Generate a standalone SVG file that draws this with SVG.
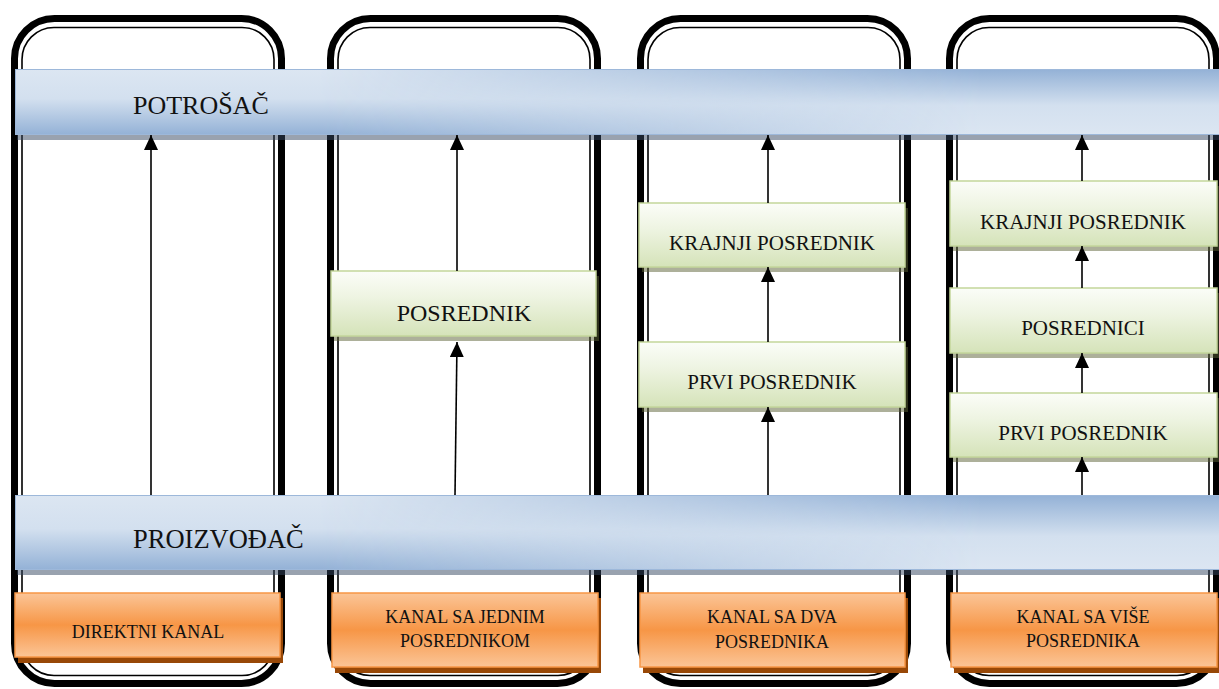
<svg xmlns="http://www.w3.org/2000/svg" width="1219" height="689" viewBox="0 0 1219 689">
<style>
.frO{fill:none;stroke:#000;stroke-width:7}
.frI{fill:none;stroke:#000;stroke-width:1.6}
.t{font-family:"Liberation Serif","Times New Roman",serif;fill:#111}
.band{stroke:#9db8da;stroke-width:1}
.bsh{fill:#33465f;opacity:0.5}
.gbox{fill:url(#gGreen);stroke:#c3d69b;stroke-width:1.5}
.gsh{fill:#5b6236;opacity:0.5}
.obox{fill:url(#gOrange);stroke:#f79646;stroke-width:1.5}
.osh{fill:#984807}
.cn{stroke:#000;stroke-width:1.6;fill:none;marker-end:url(#ah)}
</style>
<defs>
<linearGradient id="gA" x1="0" y1="0" x2="0" y2="1">
<stop offset="0" stop-color="#dce6f2"/><stop offset="0.45" stop-color="#d3e0ef"/><stop offset="1" stop-color="#93b1d6"/>
</linearGradient>
<linearGradient id="gB" x1="0" y1="0" x2="0" y2="1">
<stop offset="0" stop-color="#93b1d6"/><stop offset="0.55" stop-color="#d3e0ef"/><stop offset="1" stop-color="#dce6f2"/>
</linearGradient>
<linearGradient id="gH" x1="0" y1="0" x2="1" y2="0">
<stop offset="0.25" stop-color="#000"/><stop offset="0.8" stop-color="#fff"/>
</linearGradient>
<mask id="mH" maskContentUnits="objectBoundingBox">
<rect x="0" y="0" width="1" height="1" fill="url(#gH)"/>
</mask>
<linearGradient id="gGreen" x1="0" y1="0" x2="0" y2="1">
<stop offset="0" stop-color="#fbfdf8"/><stop offset="0.4" stop-color="#eef4e2"/><stop offset="1" stop-color="#d5e3b9"/>
</linearGradient>
<linearGradient id="gOrange" x1="0" y1="0" x2="0" y2="1">
<stop offset="0" stop-color="#fbc597"/><stop offset="0.5" stop-color="#f79646"/><stop offset="1" stop-color="#fbc597"/>
</linearGradient>
<marker id="ah" markerUnits="userSpaceOnUse" markerWidth="16" markerHeight="14" viewBox="0 0 16 14" refX="15" refY="7" orient="auto">
<path d="M0,0 L15,7 L0,14 z" fill="#000"/>
</marker>
<g id="frame">
<rect class="frO" x="14.5" y="18.5" width="267" height="665" rx="40"/>
<rect class="frI" x="22" y="27.5" width="252" height="648" rx="32"/>
</g>
</defs>

<g id="frames">
<use href="#frame"/>
<use href="#frame" transform="translate(316,0)"/>
<use href="#frame" transform="translate(626,0)"/>
<use href="#frame" transform="translate(935,0)"/>
</g>

<g id="potrosac">
<rect class="bsh" x="17" y="74" width="1210" height="66"/>
<rect x="15" y="69" width="1210" height="66" fill="url(#gA)"/>
<rect x="15" y="69" width="1210" height="66" fill="url(#gB)" mask="url(#mH)"/>
<rect class="band" x="15.5" y="69.5" width="1210" height="65" fill="none"/>
<text class="t" x="133" y="114" font-size="26">POTROŠAČ</text>
</g>

<g id="proizvodjac">
<rect class="bsh" x="17" y="500" width="1210" height="75"/>
<rect x="15" y="495" width="1210" height="75" fill="url(#gA)"/>
<rect x="15" y="495" width="1210" height="75" fill="url(#gB)" mask="url(#mH)"/>
<rect class="band" x="15.5" y="495.5" width="1210" height="74" fill="none"/>
<text class="t" x="133" y="548" font-size="26.5">PROIZVOĐAČ</text>
</g>

<g id="posrednik2">
<rect class="gsh" x="334" y="276" width="265" height="65"/>
<rect class="gbox" x="331" y="271" width="265" height="65"/>
<text class="t" x="464" y="321" font-size="24" text-anchor="middle">POSREDNIK</text>
</g>

<g id="krajnji3">
<rect class="gsh" x="642" y="208" width="266" height="64"/>
<rect class="gbox" x="639" y="203" width="266" height="64"/>
<text class="t" x="772" y="250" font-size="21" text-anchor="middle">KRAJNJI POSREDNIK</text>
</g>
<g id="prvi3">
<rect class="gsh" x="642" y="347" width="266" height="65"/>
<rect class="gbox" x="639" y="342" width="266" height="65"/>
<text class="t" x="772" y="389" font-size="21" text-anchor="middle">PRVI POSREDNIK</text>
</g>

<g id="krajnji4">
<rect class="gsh" x="953" y="186" width="267" height="65"/>
<rect class="gbox" x="950" y="181" width="267" height="65"/>
<text class="t" x="1083" y="229" font-size="21" text-anchor="middle">KRAJNJI POSREDNIK</text>
</g>
<g id="posrednici4">
<rect class="gsh" x="953" y="293" width="267" height="65"/>
<rect class="gbox" x="950" y="288" width="267" height="65"/>
<text class="t" x="1083" y="335" font-size="21" text-anchor="middle">POSREDNICI</text>
</g>
<g id="prvi4">
<rect class="gsh" x="953" y="398" width="267" height="64"/>
<rect class="gbox" x="950" y="393" width="267" height="64"/>
<text class="t" x="1083" y="440" font-size="21" text-anchor="middle">PRVI POSREDNIK</text>
</g>

<g id="kanal1">
<rect class="osh" x="18" y="598" width="265" height="65"/>
<rect class="obox" x="15" y="593" width="265" height="64"/>
<text class="t" x="148" y="638" font-size="18" text-anchor="middle">DIREKTNI KANAL</text>
</g>
<g id="kanal2">
<rect class="osh" x="335" y="598" width="266" height="75"/>
<rect class="obox" x="332" y="593" width="266" height="74"/>
<text class="t" x="465" y="623" font-size="18" text-anchor="middle">KANAL SA JEDNIM</text>
<text class="t" x="465" y="647" font-size="18" text-anchor="middle">POSREDNIKOM</text>
</g>
<g id="kanal3">
<rect class="osh" x="643" y="598" width="265" height="75"/>
<rect class="obox" x="640" y="593" width="265" height="74"/>
<text class="t" x="772" y="623" font-size="18" text-anchor="middle">KANAL SA DVA</text>
<text class="t" x="772" y="648" font-size="18" text-anchor="middle">POSREDNIKA</text>
</g>
<g id="kanal4">
<rect class="osh" x="954" y="598" width="266" height="75"/>
<rect class="obox" x="951" y="593" width="266" height="74"/>
<text class="t" x="1083" y="623" font-size="18" text-anchor="middle">KANAL SA VIŠE</text>
<text class="t" x="1083" y="647" font-size="18" text-anchor="middle">POSREDNIKA</text>
</g>

<g id="connectors">
<path class="cn" d="M151,495 L151,135"/>
<path class="cn" d="M455,495 L457,342"/>
<path class="cn" d="M457,271 L457,135"/>
<path class="cn" d="M768,495 L768,407"/>
<path class="cn" d="M768,342 L768,267"/>
<path class="cn" d="M768,203 L768,135"/>
<path class="cn" d="M1082,495 L1082,457"/>
<path class="cn" d="M1082,393 L1082,353"/>
<path class="cn" d="M1082,288 L1082,246"/>
<path class="cn" d="M1082,181 L1082,135"/>
</g>
</svg>
